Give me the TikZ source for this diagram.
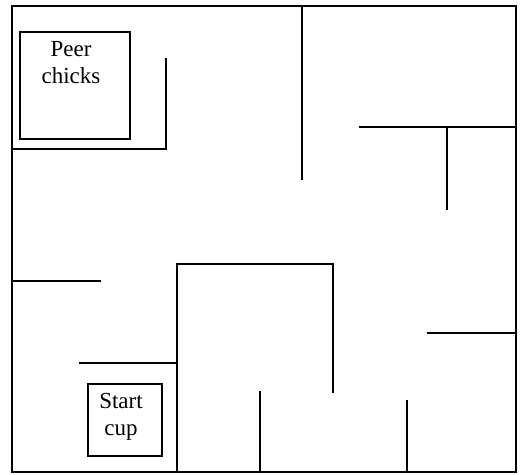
\documentclass[tikz,border=0pt]{standalone}
\usepackage{fontspec}
\setmainfont{Liberation Serif}
\begin{document}
\begin{tikzpicture}[x=1pt,y=-1pt,
  wall/.style={line width=1.6pt},
  cuplabel/.style={align=center,inner sep=0pt,font=\fontsize{23}{27}\selectfont}]
				\useasboundingbox (0,0) rectangle (521,474);
				\draw[wall] (12,6) rectangle (516,472);
				
				% peer chicks corner
				\draw[wall] (20,32) rectangle (130,139);
				\node[cuplabel] (peer) at (71,63) {Peer\\chicks};
				\draw[wall] (12,149) -- (166,149) -- (166,58);
				
				\draw[wall] (302,6) -- (302,180);
				\draw[wall] (359,127) -- (516,127);
				\draw[wall] (447,127) -- (447,210);
				
				\draw[wall] (12,281) -- (101,281);
				\draw[wall] (79,363) -- (177,363);
				\draw[wall] (177,472) -- (177,264) -- (333,264) -- (333,393);
				
				% start cup
				\draw[wall] (88,384) rectangle (162,456);
				\node[cuplabel] (start) at (121,417) {Start\\cup};
				
				\draw[wall] (260,391) -- (260,472);
				\draw[wall] (407,400) -- (407,472);
				\draw[wall] (427,333) -- (516,333);
			\end{tikzpicture}
\end{document}
